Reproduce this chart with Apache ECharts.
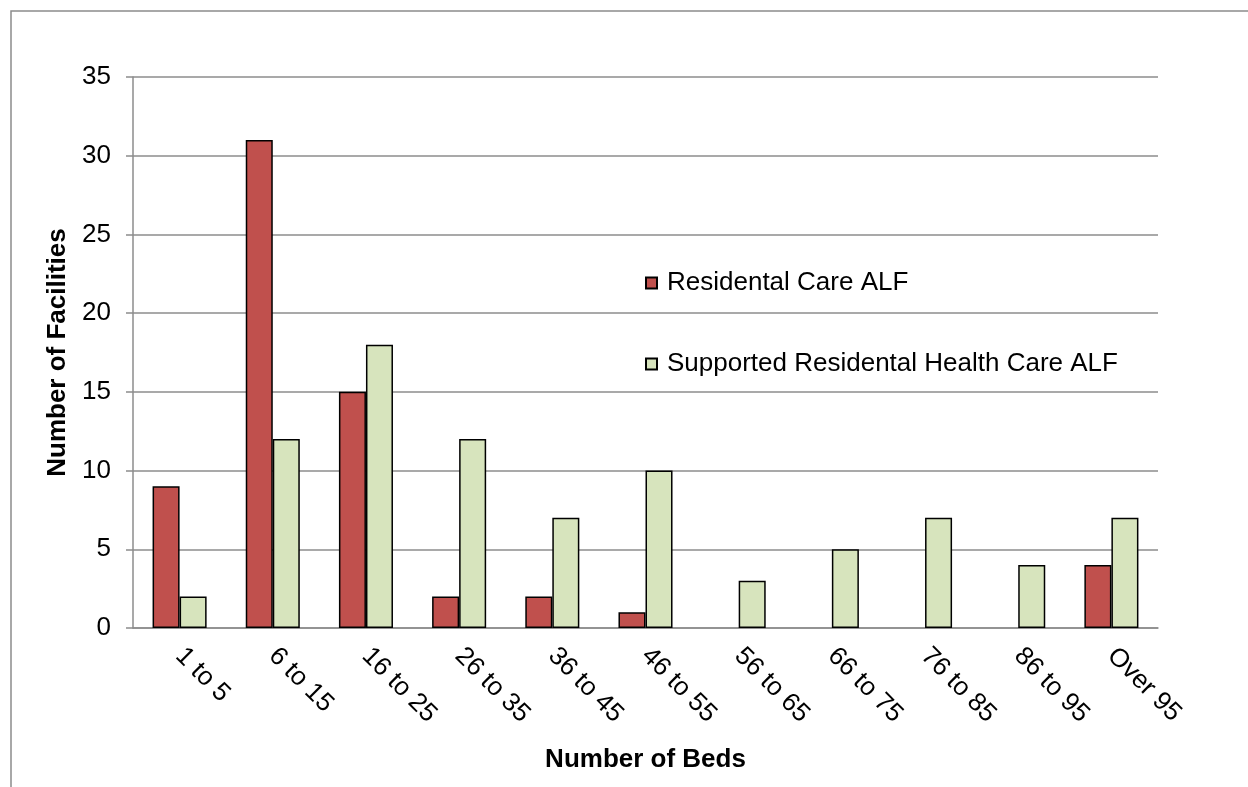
<!DOCTYPE html>
<html>
<head>
<meta charset="utf-8">
<script src="https://cdn.jsdelivr.net/npm/echarts@6/dist/echarts.min.js"></script>
<style>
  html, body { margin: 0; padding: 0; background: #fff; }
  #chart { width: 1248px; height: 787px; }
</style>
</head>
<body>
<div id="chart"></div>
<script>
// Bed-size bands
const categories = ['1 to 5', '6 to 15', '16 to 25', '26 to 35', '36 to 45', '46 to 55',
  '56 to 65', '66 to 75', '76 to 85', '86 to 95', 'Over 95'];

// Facility counts per band
const residentialCare = [9, 31, 15, 2, 2, 1, 0, 0, 0, 0, 4];
const supportedResidential = [2, 12, 18, 12, 7, 10, 3, 5, 7, 4, 7];

const seriesNames = ['Residental Care ALF', 'Supported Residental Health Care ALF'];

// Empty bands get no bar at all
const asBars = arr => arr.map(v => (v === 0 ? '-' : v));

const font = 'Liberation Sans, Arial, sans-serif';
const fs = 26;
const gridColor = '#8c8c8c';

const chart = echarts.init(document.getElementById('chart'), null, { renderer: 'canvas' });

const legendBase = {
  orient: 'vertical',
  icon: 'rect',
  itemWidth: 11, itemHeight: 11, itemGap: 10,
  textStyle: { fontSize: fs, fontFamily: font, color: '#000', padding: [0, 0, 0, 5] }
};

chart.setOption({
  animation: false,
  backgroundColor: '#fff',
  textStyle: { fontFamily: font, color: '#000' },
  graphic: [{
    type: 'rect',
    shape: { x: 11, y: 11, width: 1300, height: 900 },
    style: { fill: 'none', stroke: '#8c8c8c', lineWidth: 1.5 },
    silent: true
  }],
  grid: { left: 133, right: 90, top: 77, bottom: 159, containLabel: false },
  legend: [
    Object.assign({ left: 640, top: 265, data: [seriesNames[0]] }, legendBase),
    Object.assign({ left: 640, top: 346, data: [seriesNames[1]] }, legendBase)
  ],
  xAxis: {
    type: 'category',
    data: categories,
    name: 'Number of Beds',
    nameLocation: 'middle',
    nameGap: 119,
    nameTextStyle: { fontSize: fs, fontWeight: 'bold', fontFamily: font, color: '#000' },
    axisLine: { lineStyle: { color: gridColor, width: 1.5 } },
    axisTick: { show: false },
    axisLabel: { rotate: -45, fontSize: fs, fontFamily: font, color: '#000', margin: 24, interval: 0 }
  },
  yAxis: {
    type: 'value',
    min: 0, max: 35, interval: 5,
    name: 'Number of Facilities',
    nameLocation: 'middle',
    nameGap: 58,
    nameTextStyle: { fontSize: fs, fontWeight: 'bold', fontFamily: font, color: '#000' },
    axisLine: { show: true, lineStyle: { color: gridColor, width: 1.5 } },
    axisTick: { show: true, length: 7, lineStyle: { color: gridColor, width: 1.5 } },
    axisLabel: { fontSize: fs, fontFamily: font, color: '#000', margin: 22 },
    splitLine: { show: true, lineStyle: { color: gridColor, width: 1.5 } }
  },
  series: [
    {
      name: seriesNames[0],
      type: 'bar',
      data: asBars(residentialCare),
      barGap: '0%',
      barCategoryGap: '42%',
      itemStyle: { color: '#C0504D', borderColor: '#000', borderWidth: 1.5 }
    },
    {
      name: seriesNames[1],
      type: 'bar',
      data: asBars(supportedResidential),
      barGap: '0%',
      barCategoryGap: '42%',
      itemStyle: { color: '#D7E4BD', borderColor: '#000', borderWidth: 1.5 }
    }
  ]
});
</script>
</body>
</html>
